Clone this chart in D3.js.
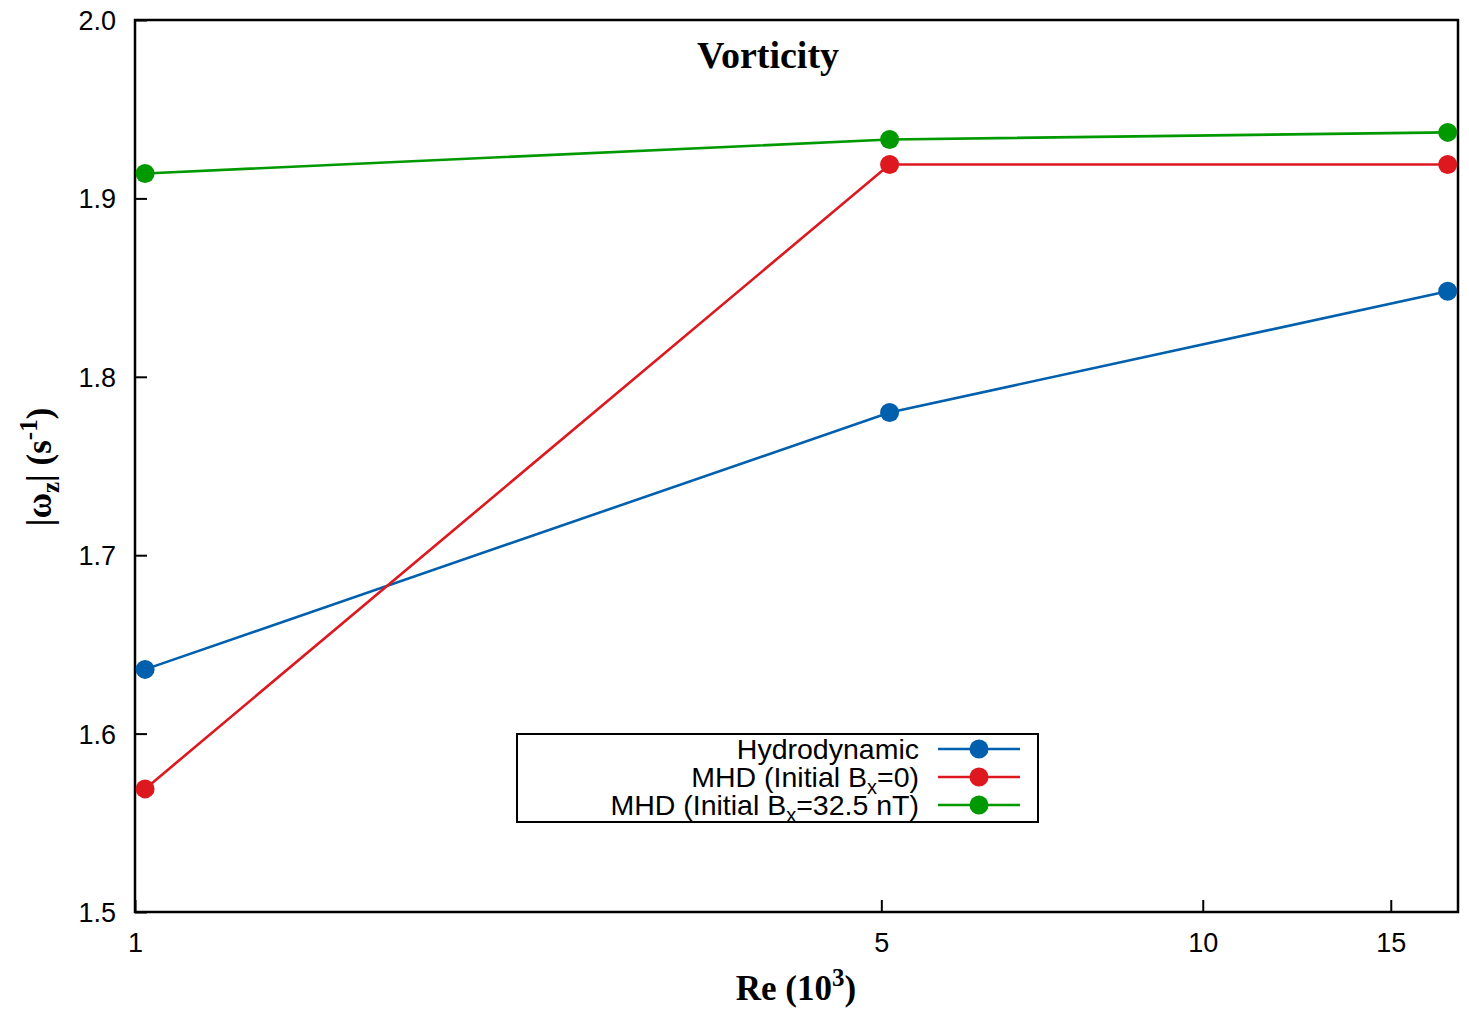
<!DOCTYPE html>
<html>
<head>
<meta charset="utf-8">
<script src="https://cdn.jsdelivr.net/npm/d3@7"></script>
<style>
  html, body { margin: 0; padding: 0; background: #fff; }
  svg { display: block; }
</style>
</head>
<body>
<svg id="chart" width="1469" height="1017"></svg>
<script>
// ---- data ----
const reValues = [1.022, 5.09, 16.96];
const hydrodynamic = [1.636, 1.780, 1.848];
const mhdBx0 = [1.569, 1.919, 1.919];
const mhdBx325 = [1.914, 1.933, 1.937];
const seriesNames = ["Hydrodynamic", "MHD (Initial B|x|=0)", "MHD (Initial B|x|=32.5 nT)"];
const seriesColors = ["#0060ad", "#dd181f", "#009900"];
const xTicks = [1, 5, 10, 15];
const yTicks = [1.5, 1.6, 1.7, 1.8, 1.9, 2.0];
const xDomain = [1, 17.34];
const yDomain = [1.5, 2.0];

const series = [hydrodynamic, mhdBx0, mhdBx325];

// ---- layout ----
const W = 1469, H = 1017;
const margin = { left: 135, right: 11, top: 20, bottom: 105 };
const svg = d3.select("#chart");
const pw = W - margin.left - margin.right;
const ph = H - margin.top - margin.bottom;

const x = d3.scaleLog().domain(xDomain).range([margin.left, margin.left + pw]);
const y = d3.scaleLinear().domain(yDomain).range([margin.top + ph, margin.top]);

const sans = "'Liberation Sans', Arial, Helvetica, sans-serif";
const serif = "'Liberation Serif', 'Times New Roman', serif";

// axes (inward ticks)
const xAxis = d3.axisBottom(x).tickValues(xTicks).tickFormat(d3.format("d")).tickSizeInner(-12).tickSizeOuter(0).tickPadding(21);
const yAxis = d3.axisLeft(y).tickValues(yTicks).tickFormat(d3.format(".1f")).tickSizeInner(-12).tickSizeOuter(0).tickPadding(19);

const gx = svg.append("g").attr("transform", `translate(0,${margin.top + ph})`).call(xAxis);
const gy = svg.append("g").attr("transform", `translate(${margin.left},0)`).call(yAxis);
[gx, gy].forEach(g => {
  g.select(".domain").remove();
  g.selectAll(".tick line").attr("stroke", "#000").attr("stroke-width", 2);
  g.selectAll(".tick text").attr("font-family", sans).attr("font-size", 27).attr("fill", "#000");
});
gx.selectAll(".tick text").attr("dy", "0.71em");
gy.selectAll(".tick text").attr("dy", "0.35em");

// border
svg.append("rect")
  .attr("x", margin.left).attr("y", margin.top)
  .attr("width", pw).attr("height", ph)
  .attr("fill", "none").attr("stroke", "#000").attr("stroke-width", 2.5);

// lines & points
const line = d3.line().x((d, i) => x(reValues[i])).y(d => y(d));
series.forEach((vals, si) => {
  svg.append("path")
    .datum(vals)
    .attr("d", line)
    .attr("fill", "none")
    .attr("stroke", seriesColors[si])
    .attr("stroke-width", 2.6);
  svg.append("g").selectAll("circle")
    .data(vals)
    .join("circle")
    .attr("cx", (d, i) => x(reValues[i]))
    .attr("cy", d => y(d))
    .attr("r", 9.5)
    .attr("fill", seriesColors[si]);
});

// title
svg.append("text")
  .attr("x", 768).attr("y", 68)
  .attr("text-anchor", "middle")
  .attr("font-family", serif).attr("font-weight", "bold").attr("font-size", 38)
  .text("Vorticity");

// x label
const xl = svg.append("text")
  .attr("x", 796).attr("y", 1000)
  .attr("text-anchor", "middle")
  .attr("font-family", serif).attr("font-weight", "bold").attr("font-size", 35);
xl.append("tspan").text("Re (10");
xl.append("tspan").attr("font-size", 25).attr("dy", -14).text("3");
xl.append("tspan").attr("dy", 14).text(")");

// y label
const yl = svg.append("text")
  .attr("transform", "translate(51,467) rotate(-90)")
  .attr("text-anchor", "middle")
  .attr("font-family", serif).attr("font-weight", "bold").attr("font-size", 35);
yl.append("tspan").text("|ω");
yl.append("tspan").attr("font-size", 25).attr("dy", 8).text("z");
yl.append("tspan").attr("dy", -8).text("| (s");
yl.append("tspan").attr("font-size", 25).attr("dy", -14).text("-1");
yl.append("tspan").attr("dy", 14).text(")");

// legend
const legend = svg.append("g");
legend.append("rect")
  .attr("x", 517).attr("y", 734).attr("width", 521).attr("height", 88)
  .attr("fill", "#fff").attr("stroke", "#000").attr("stroke-width", 2);
const rowY = [749, 777, 805];
seriesNames.forEach((name, i) => {
  const t = legend.append("text")
    .attr("x", 919).attr("y", rowY[i]).attr("dy", "0.36em")
    .attr("text-anchor", "end")
    .attr("font-family", sans).attr("font-size", 28.5).attr("fill", "#000");
  const parts = name.split("|");
  if (parts.length === 1) {
    t.text(name);
  } else {
    t.append("tspan").text(parts[0]);
    t.append("tspan").attr("font-size", 20).attr("dy", 7).text(parts[1]);
    t.append("tspan").attr("dy", -7).text(parts[2]);
  }
  legend.append("line")
    .attr("x1", 938).attr("x2", 1020).attr("y1", rowY[i]).attr("y2", rowY[i])
    .attr("stroke", seriesColors[i]).attr("stroke-width", 2.6);
  legend.append("circle")
    .attr("cx", 979).attr("cy", rowY[i]).attr("r", 9.5)
    .attr("fill", seriesColors[i]);
});
</script>
</body>
</html>
